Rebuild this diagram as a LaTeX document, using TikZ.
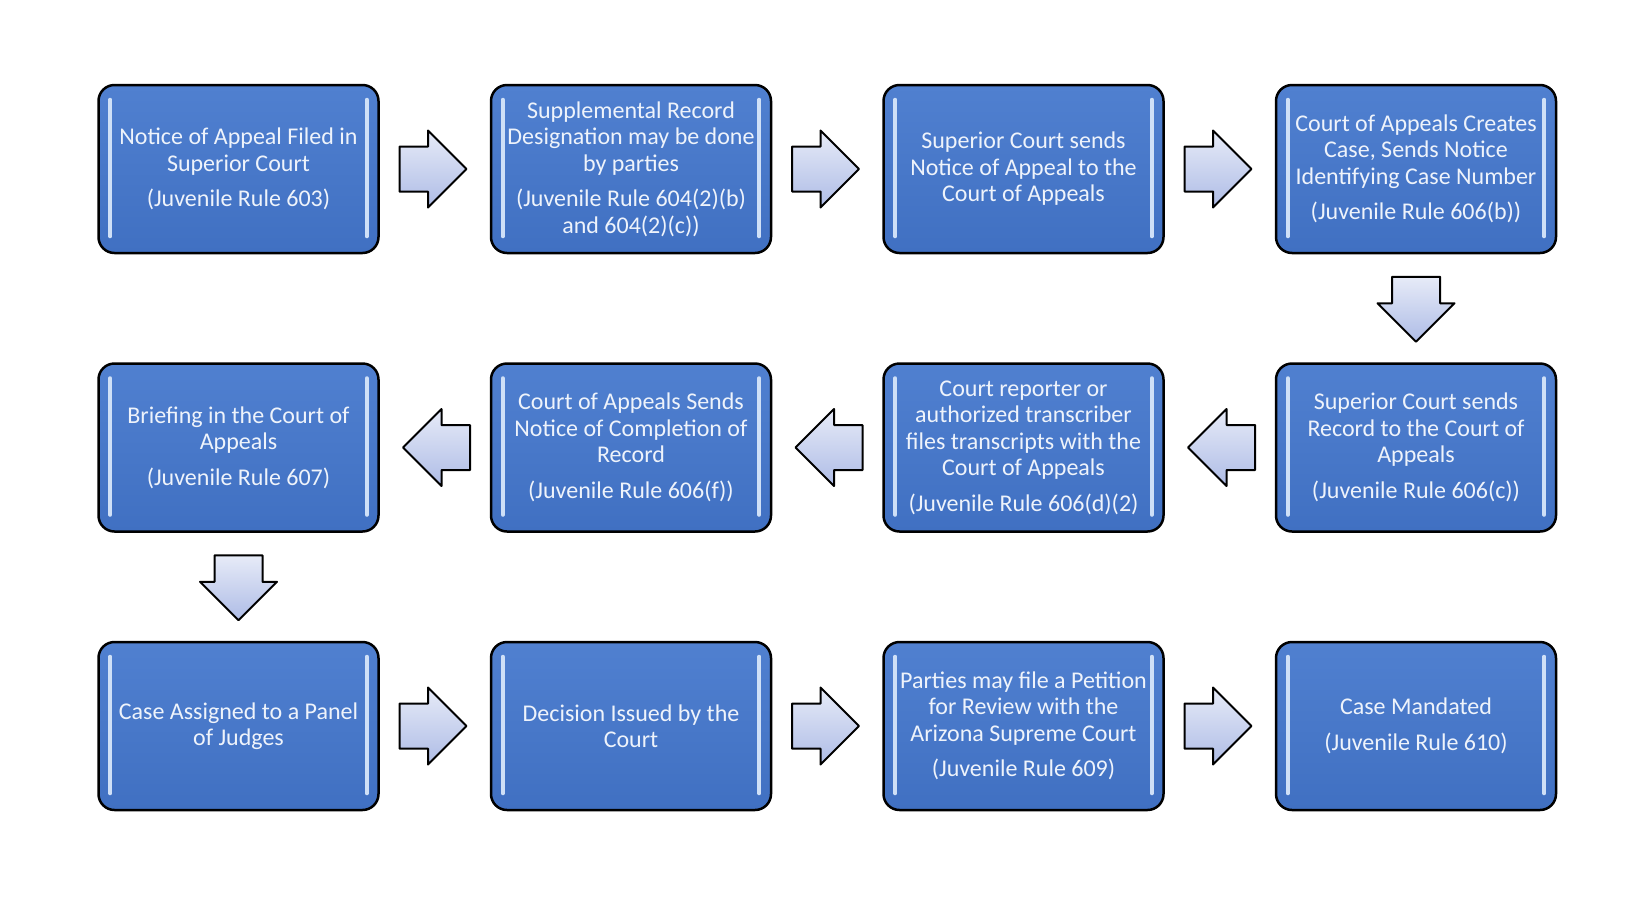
\documentclass[tikz,border=0pt]{standalone}
\usepackage{fontspec}
\setmainfont{Carlito}
\usepackage{xcolor}
\usepackage{tikz}
\usetikzlibrary{positioning,shapes.arrows,calc}

\definecolor{boxblue}{HTML}{4070C2}
\definecolor{boxtop}{HTML}{5080D0}
\definecolor{boxtext}{HTML}{EEF3FB}
\definecolor{barblue}{HTML}{CFE0F7}
\definecolor{arrowfill}{HTML}{AEBCE6}

\begin{document}
\begin{tikzpicture}[x=1pt,y=-1pt,
    stage/.style={draw=black, line width=2.5pt, rounded corners=16pt,
        top color=boxtop, bottom color=boxblue,
        minimum width=280pt, minimum height=168pt, inner sep=4pt,
        align=center, text=boxtext, font=\fontsize{24}{26.5}\selectfont},
    blockarrow/.style={single arrow, draw=black, line width=2pt, line join=round,
        top color=arrowfill!30!white, bottom color=arrowfill,
        single arrow head indent=0pt},
    rightarrow/.style={blockarrow, minimum height=67pt, inner xsep=0pt,
        inner ysep=21.5pt, single arrow head extend=16pt, xshift=-13pt},
    leftarrow/.style={blockarrow, shape border rotate=180, minimum height=67pt,
        inner xsep=0pt, inner ysep=21.5pt, single arrow head extend=16pt, xshift=13pt},
    downarrow/.style={blockarrow, shape border rotate=270, minimum height=65pt,
        inner xsep=23pt, inner ysep=0pt, single arrow head extend=14.5pt, yshift=11pt},
    edgebar/.style={draw=barblue, line width=4pt, line cap=round},
    node distance=108pt and 110pt]

    \useasboundingbox (0,0) rectangle (1650,898);

    % Row 1
    \node[stage] (n1) at (238.5,169) {Notice of Appeal Filed in\\ Superior Court\\[9pt] (Juvenile Rule 603)};
    \node[stage, right=of n1] (n2) {Supplemental Record\\ Designation may be done\\ by parties\\[9pt] (Juvenile Rule 604(2)(b)\\ and 604(2)(c))};
    \node[stage, right=of n2] (n3) {Superior Court sends\\ Notice of Appeal to the\\ Court of Appeals};
    \node[stage, right=of n3] (n4) {Court of Appeals Creates\\ Case, Sends Notice\\ Identifying Case Number\\[9pt] (Juvenile Rule 606(b))};

    % Row 2, right to left
    \node[stage, below=of n4] (n5) {Superior Court sends\\ Record to the Court of\\ Appeals\\[9pt] (Juvenile Rule 606(c))};
    \node[stage, left=of n5] (n6) {Court reporter or\\ authorized transcriber\\ files transcripts with the\\ Court of Appeals\\[9pt] (Juvenile Rule 606(d)(2)};
    \node[stage, left=of n6] (n7) {Court of Appeals Sends\\ Notice of Completion of\\ Record\\[9pt] (Juvenile Rule 606(f))};
    \node[stage, left=of n7] (n8) {Briefing in the Court of\\ Appeals\\[9pt] (Juvenile Rule 607)};

    % Row 3
    \node[stage, below=of n8] (n9) {Case Assigned to a Panel\\ of Judges};
    \node[stage, right=of n9] (n10) {Decision Issued by the\\ Court};
    \node[stage, right=of n10] (n11) {Parties may file a Petition\\ for Review with the\\ Arizona Supreme Court\\[9pt] (Juvenile Rule 609)};
    \node[stage, right=of n11] (n12) {Case Mandated\\[9pt] (Juvenile Rule 610)};

    % Light bars inside the boxes
    \foreach \i in {1,...,12} {
        \draw[edgebar] ([xshift=13pt,yshift=-16pt]n\i.north west) -- ([xshift=13pt,yshift=18pt]n\i.south west);
        \draw[edgebar] ([xshift=-13pt,yshift=-16pt]n\i.north east) -- ([xshift=-13pt,yshift=18pt]n\i.south east);
    }

    % Block arrows
    \node[rightarrow] (a1) at ($(n1.east)!0.5!(n2.west)$) {};
    \node[rightarrow] (a2) at ($(n2.east)!0.5!(n3.west)$) {};
    \node[rightarrow] (a3) at ($(n3.east)!0.5!(n4.west)$) {};
    \node[downarrow] (a4) at ($(n4.south)!0.5!(n5.north)$) {};
    \node[leftarrow] (a5) at ($(n5.west)!0.5!(n6.east)$) {};
    \node[leftarrow] (a6) at ($(n6.west)!0.5!(n7.east)$) {};
    \node[leftarrow] (a7) at ($(n7.west)!0.5!(n8.east)$) {};
    \node[downarrow] (a8) at ($(n8.south)!0.5!(n9.north)$) {};
    \node[rightarrow] (a9) at ($(n9.east)!0.5!(n10.west)$) {};
    \node[rightarrow] (a10) at ($(n10.east)!0.5!(n11.west)$) {};
    \node[rightarrow] (a11) at ($(n11.east)!0.5!(n12.west)$) {};
\end{tikzpicture}
\end{document}
